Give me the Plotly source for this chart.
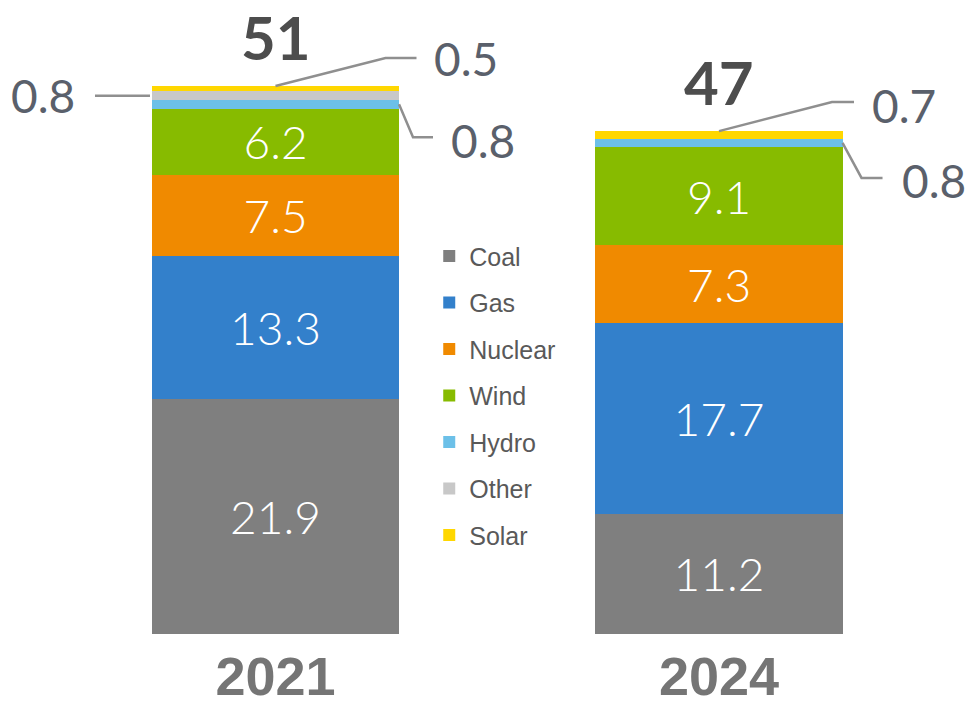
import plotly.graph_objects as go

# Generation mix by source (units as shown on bars)
years = ["2021", "2024"]
sources = ["Coal", "Gas", "Nuclear", "Wind", "Hydro", "Other", "Solar"]
coal = [21.9, 11.2]
gas = [13.3, 17.7]
nuclear = [7.5, 7.3]
wind = [6.2, 9.1]
hydro = [0.8, 0.8]
other = [0.8, 0.0]
solar = [0.5, 0.7]
totals_label = ["51", "47"]

series = [coal, gas, nuclear, wind, hydro, other, solar]
colors = ["#7f7f7f", "#3380cb", "#f08a00", "#87bb00", "#6cc0e8", "#c8c8c8", "#ffd700"]

xpos = [0, 1]
bar_w = 0.557

fig = go.Figure()
for name, vals, col in zip(sources, series, colors):
    fig.add_trace(go.Bar(
        x=xpos, y=vals, name=name, width=bar_w,
        marker=dict(color=col, line=dict(width=0)),
        text=[f"{v:.1f}" if v >= 2 else "" for v in vals],
        textposition="inside", insidetextanchor="middle",
        textangle=0, constraintext="none",
        textfont=dict(family="Lato", size=46, color="white", weight=300),
        legendgroup=name, hoverinfo="skip",
    ))

# stacked positions
base = {}
run = [0.0, 0.0]
for name, vals in zip(sources, series):
    base[name] = list(run)
    run = [r + v for r, v in zip(run, vals)]
totals = run

annotations = []
shapes = []
# totals above bars
for i in range(2):
    annotations.append(dict(
        x=xpos[i], y=totals[i], xref="x", yref="y", text=f"<b>{totals_label[i]}</b>",
        showarrow=False, yanchor="bottom", yshift=11,
        font=dict(family="Lato", size=60, color="#4d4d4d"),
    ))

# callouts for thin segments: (year idx, source, anchor, y position, path, xshift, yshift, xanchor)
callouts = [
    (0, "Other", "left", "mid", "M -2,0 L -57,0", -75, 0, "right"),
    (0, "Solar", "center", "top", "M 0,0 L 110,28 L 141,28", 156, 27, "left"),
    (0, "Hydro", "right", "mid", "M 0,0 L 14,-33 L 34,-33", 50, -36, "left"),
    (1, "Solar", "center", "top", "M 0,0 L 113,29 L 135,29", 151, 26, "left"),
    (1, "Hydro", "right", "mid", "M 0,0 L 19,-35 L 40,-35", 57, -38, "left"),
]
for i, src, side, where, path, dx, dy, xa in callouts:
    v = series[sources.index(src)][i]
    b = base[src][i]
    ya = b + v if where == "top" else b + v / 2
    xa_val = xpos[i] + {"left": -bar_w / 2, "center": 0, "right": bar_w / 2}[side]
    shapes.append(dict(
        type="path", xref="x", yref="y", xsizemode="pixel", ysizemode="pixel",
        xanchor=xa_val, yanchor=ya, path=path,
        line=dict(color="#8f8f8f", width=2.5),
    ))
    annotations.append(dict(
        x=xa_val, y=ya, xref="x", yref="y", text=f"{v:.1f}", showarrow=False,
        xanchor=xa, yanchor="middle", xshift=dx, yshift=dy,
        font=dict(family="Lato", size=46, color="#5a606b"),
    ))

fig.update_layout(
    barmode="stack",
    width=980, height=711,
    margin=dict(l=0, r=0, t=0, b=77, pad=0),
    paper_bgcolor="white", plot_bgcolor="white",
    xaxis=dict(range=[-0.6212, 1.5885], tickvals=xpos, ticktext=years,
               showgrid=False, zeroline=False, showline=False, ticks="",
               ticklabelstandoff=6,
               tickfont=dict(family="Liberation Sans", size=54, color="#757575", weight="bold")),
    yaxis=dict(range=[0, 59], visible=False, showgrid=False, zeroline=False),
    legend=dict(x=0.438, y=0.632, xanchor="left", yanchor="top",
                traceorder="grouped", tracegroupgap=11,
                font=dict(family="Liberation Sans", size=25, color="#595959"),
                bgcolor="rgba(0,0,0,0)", itemclick=False),
    annotations=annotations, shapes=shapes,
    showlegend=True,
)

fig.write_html("out.html")
